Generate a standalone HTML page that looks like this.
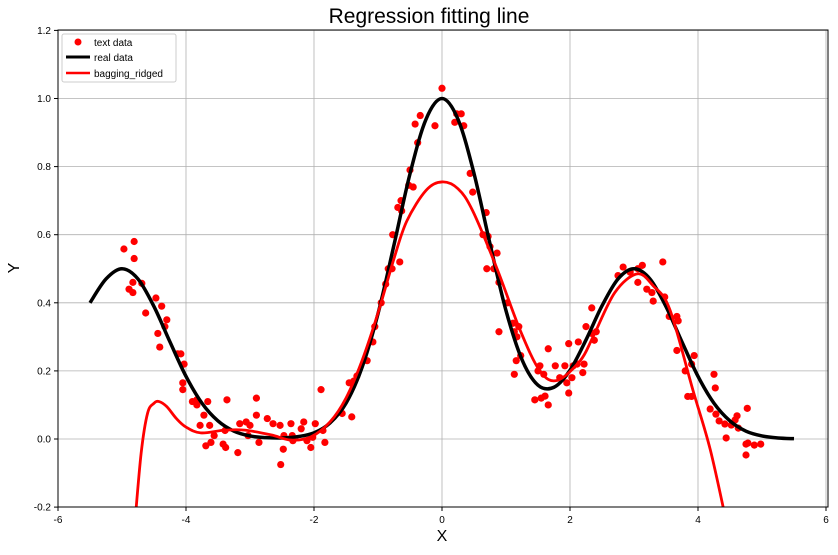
<!DOCTYPE html>
<html><head><meta charset="utf-8"><style>
body{margin:0;background:#fff;font-family:"Liberation Sans",sans-serif}
svg text{font-family:"Liberation Sans",sans-serif}
</style></head><body>
<svg id="chart" width="838" height="550" xmlns="http://www.w3.org/2000/svg">
<defs><clipPath id="clip"><rect x="58" y="30" width="770" height="477"/></clipPath></defs>
<text x="429" y="23" font-size="21" text-anchor="middle">Regression fitting line</text>
<g id="grid"></g><g id="ticks"></g>
<g id="series" clip-path="url(#clip)"></g>
<rect x="58" y="30" width="770" height="477" fill="none" stroke="#000" stroke-width="1"/>
<text x="442" y="541" font-size="16" text-anchor="middle">X</text>
<text x="19" y="268" font-size="16" text-anchor="middle" transform="rotate(-90 19 268)">Y</text>
<g>
<rect x="62" y="34" width="114" height="48" fill="#fff" fill-opacity="0.85" stroke="#ccc" rx="2"/>
<circle cx="78" cy="42" r="3.5" fill="red"/>
<text x="94" y="46" font-size="10">text data</text>
<line x1="66" y1="57" x2="90" y2="57" stroke="#000" stroke-width="3"/>
<text x="94" y="61" font-size="10">real data</text>
<line x1="66" y1="73" x2="90" y2="73" stroke="red" stroke-width="2.5"/>
<text x="94" y="77" font-size="10">bagging_ridged</text>
</g>
</svg>
<script>
const xTicks=[-6,-4,-2,0,2,4,6];
const yTicks=[-0.2,0.0,0.2,0.4,0.6,0.8,1.0,1.2];
const realX=[-5.5,-5.25,-5,-4.75,-4.5,-4.25,-4,-3.75,-3.5,-3.25,-3,-2.75,-2.5,-2.25,-2,-1.75,-1.5,-1.25,-1,-0.75,-0.5,-0.25,0,0.25,0.5,0.75,1,1.25,1.5,1.75,2,2.25,2.5,2.75,3,3.25,3.5,3.75,4,4.25,4.5,4.75,5,5.25,5.5];
const realY=[0.40,0.47,0.5,0.47,0.389,0.285,0.184,0.105,0.053,0.023,0.009,0.004,0.003,0.007,0.018,0.047,0.105,0.21,0.368,0.57,0.779,0.939,1.0,0.939,0.78,0.573,0.377,0.233,0.158,0.152,0.202,0.291,0.391,0.47,0.5,0.47,0.389,0.285,0.184,0.105,0.053,0.023,0.009,0.003,0.001];
const fitX=[-4.8,-4.7,-4.6,-4.5,-4.42,-4.3,-4.15,-4.0,-3.77,-3.39,-3.08,-2.67,-2.36,-2.05,-1.75,-1.5,-1.25,-1.0,-0.75,-0.55,-0.25,0,0.25,0.48,0.86,1.22,1.53,1.8,2.16,2.36,2.7,3.05,3.3,3.56,3.92,4.19,4.45];
const fitY=[-0.25,-0.04,0.076,0.105,0.11,0.095,0.06,0.035,0.018,0.026,0.026,0.012,-0.003,0.006,0.05,0.12,0.23,0.37,0.53,0.64,0.73,0.755,0.735,0.67,0.5,0.32,0.2,0.172,0.23,0.3,0.43,0.485,0.45,0.38,0.144,-0.03,-0.25];
const dataX=[-4.97,-4.81,-4.81,-4.89,-4.83,-4.83,-4.69,-4.63,-4.47,-4.38,-4.3,-4.33,-4.44,-4.41,-4.13,-4.08,-4.03,-4.05,-4.05,-3.9,-3.83,-3.83,-3.78,-3.72,-3.66,-3.63,-3.69,-3.61,-3.56,-3.42,-3.39,-3.36,-3.38,-3.19,-3.16,-3.06,-3.03,-3.0,-2.9,-2.9,-2.86,-2.73,-2.64,-2.53,-2.52,-2.48,-2.47,-2.36,-2.34,-2.33,-2.2,-2.16,-2.11,-2.05,-2.02,-1.98,-1.89,-1.86,-1.83,-1.56,-1.41,-1.45,-1.38,-1.33,-1.17,-1.08,-1.05,-0.95,-0.88,-0.84,-0.78,-0.77,-0.69,-0.63,-0.64,-0.66,-0.5,-0.45,-0.52,-0.42,-0.38,-0.34,-0.11,0,0.2,0.23,0.3,0.34,0.44,0.48,0.69,0.64,0.72,0.75,0.7,0.81,0.86,0.89,0.89,1.02,1.11,1.13,1.13,1.17,1.2,1.23,1.16,1.45,1.55,1.61,1.66,1.5,1.53,1.59,1.66,1.77,1.84,1.92,1.95,1.98,1.98,2.05,2.03,2.11,2.13,2.2,2.22,2.25,2.34,2.34,2.38,2.41,2.75,2.83,2.94,3.06,3.13,3.06,3.2,3.28,3.45,3.48,3.3,3.55,3.67,3.69,3.67,3.8,3.84,3.9,3.9,3.94,4.19,4.25,4.27,4.28,4.33,4.44,4.42,4.52,4.77,4.63,4.58,4.61,4.75,4.78,4.75,4.88,4.98];
const dataY=[0.558,0.58,0.53,0.44,0.43,0.46,0.457,0.37,0.414,0.39,0.35,0.33,0.31,0.27,0.25,0.25,0.22,0.165,0.145,0.11,0.115,0.1,0.04,0.07,0.11,0.04,-0.02,-0.01,0.01,-0.015,0.025,0.115,-0.025,-0.04,0.045,0.05,0.01,0.04,0.12,0.07,-0.01,0.06,0.045,0.04,-0.075,-0.03,0.01,0.045,0.01,-0.005,0.03,0.05,-0.005,-0.025,0.005,0.045,0.145,0.025,-0.01,0.075,0.065,0.165,0.17,0.185,0.23,0.285,0.33,0.4,0.455,0.5,0.5,0.6,0.68,0.67,0.7,0.52,0.79,0.74,0.745,0.925,0.87,0.95,0.92,1.03,0.93,0.955,0.955,0.92,0.78,0.725,0.665,0.6,0.595,0.565,0.5,0.5,0.546,0.46,0.315,0.4,0.34,0.315,0.19,0.3,0.33,0.245,0.23,0.115,0.12,0.126,0.1,0.2,0.215,0.19,0.265,0.215,0.18,0.215,0.165,0.135,0.28,0.215,0.18,0.22,0.285,0.195,0.22,0.33,0.31,0.385,0.29,0.315,0.48,0.505,0.49,0.5,0.51,0.46,0.44,0.43,0.52,0.417,0.405,0.36,0.36,0.347,0.26,0.2,0.125,0.125,0.22,0.245,0.088,0.19,0.15,0.073,0.053,0.003,0.044,0.041,0.09,0.032,0.056,0.068,-0.015,-0.012,-0.047,-0.018,-0.015];
const NS="http://www.w3.org/2000/svg";
const sx=v=>442+v*64, sy=v=>439-v*340.5;
function mk(t,a,p){const e=document.createElementNS(NS,t);for(const k in a)e.setAttribute(k,a[k]);p.appendChild(e);return e;}
const grid=document.getElementById('grid'),ticks=document.getElementById('ticks'),ser=document.getElementById('series');
xTicks.forEach(t=>{const l=mk('line',{x1:sx(t),x2:sx(t),y1:30,y2:507,stroke:'#b0b0b0','stroke-width':0.8},grid);

mk('line',{x1:sx(t),x2:sx(t),y1:507,y2:511,stroke:'#000'},ticks);
const tx=mk('text',{x:sx(t),y:523,'font-size':10,'text-anchor':'middle'},ticks);tx.textContent=t;
});
yTicks.forEach(t=>{const l=mk('line',{x1:58,x2:828,y1:sy(t),y2:sy(t),stroke:'#b0b0b0','stroke-width':0.8},grid);

mk('line',{x1:54,x2:58,y1:sy(t),y2:sy(t),stroke:'#000'},ticks);
const tx=mk('text',{x:51,y:sy(t)+3.5,'font-size':10,'text-anchor':'end'},ticks);tx.textContent=t.toFixed(1);
});
function smooth(xs,ys){const p=xs.map((x,i)=>[sx(x),sy(ys[i])]);let d='M'+p[0];
for(let i=0;i<p.length-1;i++){const p0=p[i-1]||p[i],p1=p[i],p2=p[i+1],p3=p[i+2]||p2;
const c1=[p1[0]+(p2[0]-p0[0])/6,p1[1]+(p2[1]-p0[1])/6],c2=[p2[0]-(p3[0]-p1[0])/6,p2[1]-(p3[1]-p1[1])/6];
d+=' C'+c1+' '+c2+' '+p2;}return d;}
dataX.forEach((x,i)=>{const c=mk('circle',{cx:sx(x),cy:sy(dataY[i]),r:3.6,fill:'red'},ser);
});
const r=mk('path',{d:smooth(realX,realY),fill:'none',stroke:'#000','stroke-width':3.5},ser);

const f=mk('path',{d:smooth(fitX,fitY),fill:'none',stroke:'red','stroke-width':2.8},ser);

</script>
</body></html>
